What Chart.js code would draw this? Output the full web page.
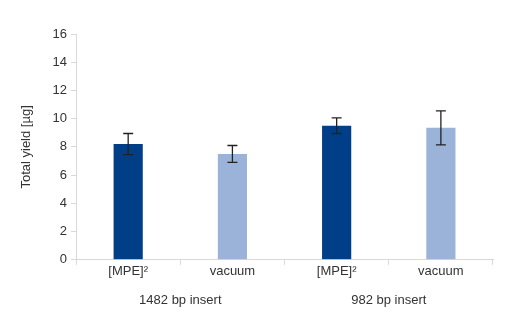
<!DOCTYPE html>
<html>
<head>
<meta charset="utf-8">
<script src="https://cdn.jsdelivr.net/npm/chart.js@4"></script>
<style>
  html, body { margin: 0; padding: 0; background: #fff; }
  #wrap { width: 508px; height: 317px; position: relative; }
</style>
</head>
<body>
<div id="wrap"><canvas id="yieldChart"></canvas></div>
<script>
// values
const categories = ['[MPE]\u00b2', 'vacuum', '[MPE]\u00b2', 'vacuum'];
const groups = ['1482 bp insert', '982 bp insert'];
const yields = [8.2, 7.5, 9.5, 9.35];
const errors = [0.75, 0.6, 0.55, 1.2];
const barColors = ['#003f87', '#9bb3d8', '#003f87', '#9bb3d8'];
const yTicks = [0, 2, 4, 6, 8, 10, 12, 14, 16];

const textColor = '#333333';
const axisColor = '#d9d9d9';

// draws the error whiskers from the y scale
const errorBars = {
    id: 'errorBars',
    afterDatasetsDraw(chart) {
        const ctx = chart.ctx;
        const y = chart.scales.y;
        const meta = chart.getDatasetMeta(0);
        ctx.save();
        ctx.strokeStyle = '#222';
        ctx.lineWidth = 1.3;
        meta.data.forEach((bar, i) => {
            const top = y.getPixelForValue(yields[i] + errors[i]);
            const bot = y.getPixelForValue(yields[i] - errors[i]);
            const cap = 5;
            ctx.beginPath();
            ctx.moveTo(bar.x, top);
            ctx.lineTo(bar.x, bot);
            ctx.moveTo(bar.x - cap, top);
            ctx.lineTo(bar.x + cap, top);
            ctx.moveTo(bar.x - cap, bot);
            ctx.lineTo(bar.x + cap, bot);
            ctx.stroke();
        });
        ctx.restore();
    }
};

Chart.defaults.font.family = '"Liberation Sans", Arial, sans-serif';
Chart.defaults.color = textColor;

new Chart(document.getElementById('yieldChart').getContext('2d'), {
    type: 'bar',
    data: {
        labels: categories,
        datasets: [{
            data: yields,
            backgroundColor: barColors,
            borderWidth: 0,
            barPercentage: 0.28,
            categoryPercentage: 1.0
        }]
    },
    options: {
        responsive: true,
        maintainAspectRatio: false,
        animation: false,
        layout: { padding: { top: 34, right: 15, bottom: -5, left: 15 } },
        plugins: {
            legend: { display: false },
            tooltip: { enabled: false }
        },
        scales: {
            x: {
                offset: true,
                grid: {
                    offset: true,
                    drawOnChartArea: false,
                    drawTicks: true,
                    tickLength: 5,
                    color: axisColor
                },
                border: { color: axisColor },
                ticks: { font: { size: 13 }, padding: -1, maxRotation: 0 }
            },
            x2: {
                type: 'category',
                position: 'bottom',
                labels: groups,
                offset: true,
                grid: { display: false, drawTicks: false },
                border: { display: false },
                ticks: { font: { size: 13 }, padding: 14 }
            },
            y: {
                min: 0,
                max: 16,
                afterBuildTicks: (axis) => { axis.ticks = yTicks.map(v => ({ value: v })); },
                grid: {
                    drawOnChartArea: false,
                    drawTicks: true,
                    tickLength: 5,
                    color: axisColor
                },
                border: { color: axisColor },
                ticks: { font: { size: 13 }, padding: 4 },
                title: {
                    display: true,
                    text: 'Total yield [\u00b5g]',
                    font: { size: 13 },
                    padding: { bottom: 14 }
                }
            }
        }
    },
    plugins: [errorBars]
});
</script>
</body>
</html>
